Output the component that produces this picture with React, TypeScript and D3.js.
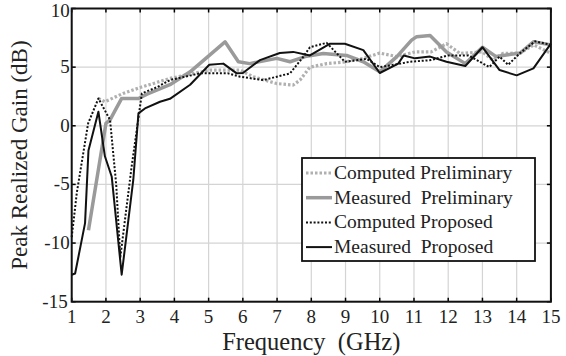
import React from "react";
import * as d3 from "d3";

const xTicks = [1, 2, 3, 4, 5, 6, 7, 8, 9, 10, 11, 12, 13, 14, 15];
const yTicks = [10, 5, 0, -5, -10, -15];

const compPrelimF = [1.78, 1.97, 2.5, 3.04, 3.87, 5.04, 5.92, 6.3, 6.99, 7.47, 7.67, 7.96, 8.45, 9.03, 9.52, 10.0, 10.5, 11.03, 11.5, 11.95, 12.34, 13.0, 13.3, 13.6, 14.1, 14.5, 15.0];
const compPrelimG = [2.33, 2.05, 2.76, 3.3, 4.04, 4.75, 4.75, 4.18, 3.6, 3.47, 3.9, 5.0, 5.3, 5.46, 5.75, 6.2, 5.9, 6.3, 6.3, 7.0, 6.17, 6.3, 5.6, 6.17, 6.2, 6.9, 6.17];

const measPrelimF = [1.49, 2.0, 2.12, 2.46, 2.95, 3.2, 3.87, 4.46, 5.48, 5.87, 6.2, 6.99, 7.38, 7.82, 8.35, 9.03, 9.52, 10.0, 10.5, 10.93, 11.08, 11.47, 11.95, 12.5, 13.0, 13.4, 14.1, 14.49, 15.0];
const measPrelimG = [-8.9, 0.2, 0.5, 2.33, 2.33, 2.7, 3.5, 4.6, 7.16, 5.46, 5.3, 5.75, 5.46, 5.9, 6.17, 6.0, 5.46, 4.6, 5.9, 7.3, 7.6, 7.7, 6.3, 5.3, 6.7, 5.9, 6.2, 7.16, 6.9];

const compPropF = [1.0, 1.15, 1.48, 1.78, 2.12, 2.3, 2.42, 2.75, 3.05, 3.5, 3.87, 4.75, 5.57, 5.92, 6.6, 7.38, 7.77, 7.96, 8.45, 8.98, 9.62, 10.0, 10.6, 10.88, 11.5, 12.0, 12.59, 13.02, 13.2, 13.5, 13.75, 14.1, 14.54, 15.0];
const compPropG = [-9.5, -5.7, 0.2, 2.33, 0.5, -5.0, -11.2, -3.5, 2.76, 3.3, 3.9, 4.47, 4.47, 4.18, 3.9, 4.47, 5.9, 6.7, 7.07, 5.46, 5.7, 5.0, 5.3, 5.46, 5.6, 6.0, 6.0, 5.3, 5.0, 5.9, 5.2, 6.2, 7.2, 6.9];

const measPropF = [1.0, 1.1, 1.39, 1.49, 1.78, 1.97, 2.17, 2.46, 2.8, 2.95, 3.14, 3.58, 3.87, 4.46, 5.02, 5.43, 5.82, 6.0, 6.5, 7.08, 7.47, 7.96, 8.55, 8.98, 9.52, 10.0, 10.54, 10.7, 11.03, 11.47, 11.95, 12.5, 13.0, 13.5, 14.0, 14.49, 15.0];
const measPropG = [-12.7, -12.6, -8.3, -2.1, 1.2, -2.6, -4.35, -12.7, -4.6, 1.06, 1.48, 2.05, 2.3, 3.5, 5.2, 5.3, 4.47, 4.5, 5.6, 6.2, 6.3, 6.0, 7.0, 7.0, 6.45, 4.5, 5.3, 6.0, 5.75, 5.9, 5.46, 5.1, 6.7, 4.75, 4.3, 4.9, 7.0];

const seriesNames = ["Computed Preliminary", "Measured  Preliminary", "Computed Proposed", "Measured  Proposed"];

export default function App() {
  const W = 566, H = 356;
  const left = 71.7, right = 550.9, top = 8.5, bottom = 301.7;
  const x = d3.scaleLinear().domain([1, 15]).range([left, right]);
  const y = d3.scaleLinear().domain([-15, 10]).range([bottom, top]);
  const line = d3.line<[number, number]>().x(d => x(d[0])).y(d => y(d[1]));
  const zip = (a: number[], b: number[]) => a.map((v, i) => [v, b[i]] as [number, number]);

  const styles = [
    { f: compPrelimF, g: compPrelimG, stroke: "#b0b0b0", width: 3.2, dash: "2.5,2" },
    { f: measPrelimF, g: measPrelimG, stroke: "#9a9a9a", width: 3.5, dash: "" },
    { f: compPropF, g: compPropG, stroke: "#111", width: 2, dash: "2,1.8" },
    { f: measPropF, g: measPropG, stroke: "#111", width: 2, dash: "" },
  ];
  const tf: React.CSSProperties = { fontFamily: '"Liberation Serif", "Times New Roman", Times, serif', whiteSpace: "pre" };

  return (
    <svg width={W} height={H} style={{ position: "absolute", left: 0, top: 0, background: "#fff" }}>
      <rect width={W} height={H} fill="#fff" />
      {xTicks.map(t => (
        <line key={"gx" + t} x1={x(t)} x2={x(t)} y1={top} y2={bottom} stroke="#d4d4d4" strokeWidth={1.2} />
      ))}
      {yTicks.map(t => (
        <line key={"gy" + t} x1={left} x2={right} y1={y(t)} y2={y(t)} stroke="#d4d4d4" strokeWidth={1.2} />
      ))}
      {xTicks.map(t => (
        <g key={"tx" + t}>
          <line x1={x(t)} x2={x(t)} y1={bottom} y2={bottom - 4} stroke="#000" strokeWidth={1.5} />
          <line x1={x(t)} x2={x(t)} y1={top} y2={top + 4} stroke="#000" strokeWidth={1.5} />
          <text x={x(t)} y={323} textAnchor="middle" fontSize={19} fill="#222" style={tf}>{t}</text>
        </g>
      ))}
      {yTicks.map(t => (
        <g key={"ty" + t}>
          <line x1={left} x2={left + 4} y1={y(t)} y2={y(t)} stroke="#000" strokeWidth={1.5} />
          <line x1={right} x2={right - 4} y1={y(t)} y2={y(t)} stroke="#000" strokeWidth={1.5} />
          <text x={t === -15 ? left - 4 : left - 2} y={y(t) + (t === -15 ? 6 : t === 10 ? 8 : 6)} textAnchor="end" fontSize={19} fill="#222" style={tf}>{t}</text>
        </g>
      ))}
      {styles.map((s, i) => (
        <path key={"s" + i} d={line(zip(s.f, s.g)) || ""} fill="none" stroke={s.stroke} strokeWidth={s.width}
          strokeDasharray={s.dash || undefined} strokeLinejoin="round" />
      ))}
      <rect x={left} y={top} width={right - left} height={bottom - top} fill="none" stroke="#111" strokeWidth={2} />
      <g>
        <rect x={302} y={158} width={233} height={103} fill="#fff" stroke="#111" strokeWidth={1.8} />
        {styles.map((s, i) => {
          const yy = 173 + i * 24.7;
          return (
            <g key={"l" + i}>
              <line x1={306} x2={332} y1={yy} y2={yy} stroke={s.stroke} strokeWidth={s.width}
                strokeDasharray={s.dash || undefined} />
              <text x={334} y={yy + 6} fontSize={19.5} fill="#222" style={tf}>{seriesNames[i]}</text>
            </g>
          );
        })}
      </g>
      <text x={(left + right) / 2} y={350} textAnchor="middle" fontSize={24.5} fill="#222" style={tf}>Frequency  (GHz)</text>
      <text transform={`translate(27, ${(top + bottom) / 2}) rotate(-90)`} textAnchor="middle" fontSize={23} fill="#222" style={tf}>Peak Realized Gain (dB)</text>
    </svg>
  );
}
